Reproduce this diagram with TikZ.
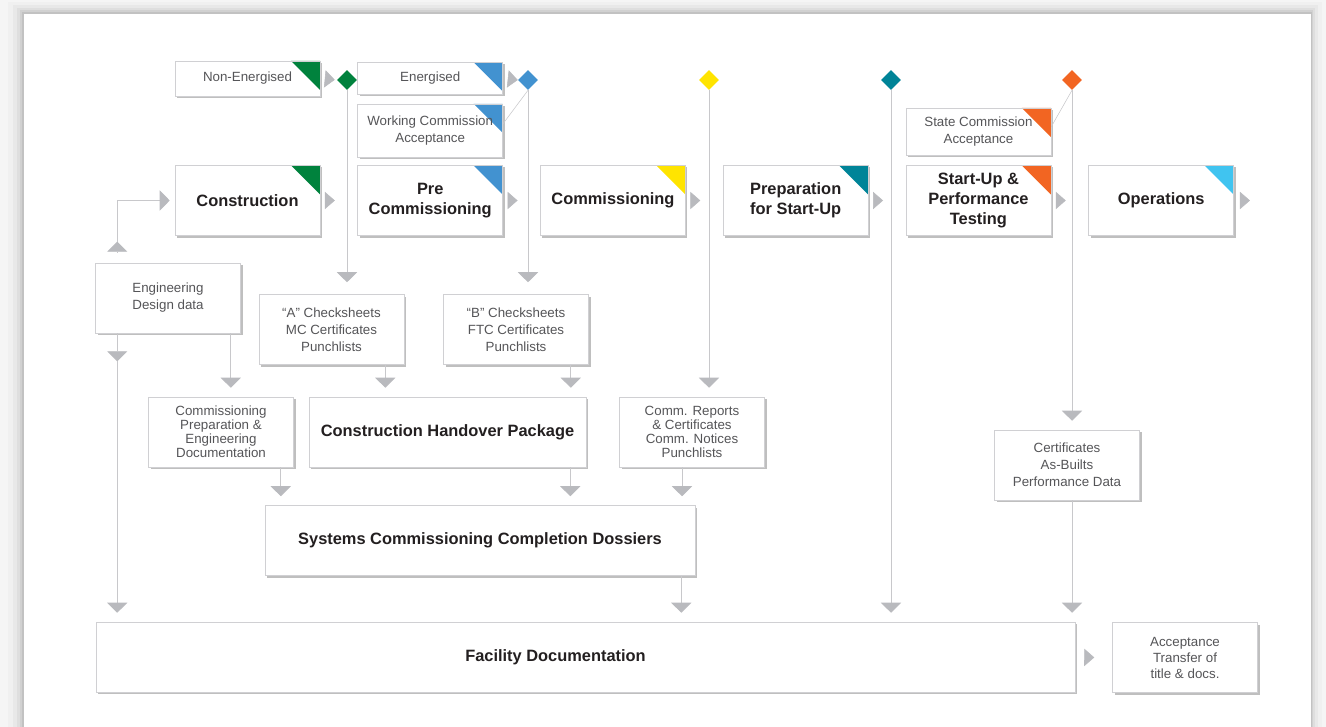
\documentclass[tikz,border=0pt]{standalone}
\usepackage{fontspec}
\setmainfont{Liberation Sans}
\usetikzlibrary{arrows.meta,positioning,calc,shapes.geometric,shadows}

\definecolor{gGreen}{RGB}{0,130,61}
\definecolor{gBlue}{RGB}{66,146,208}
\definecolor{gYellow}{RGB}{255,228,0}
\definecolor{gTeal}{RGB}{0,132,152}
\definecolor{gOrange}{RGB}{242,101,34}
\definecolor{gSky}{RGB}{64,196,240}
\definecolor{tipgray}{RGB}{185,186,190}
\definecolor{linegray}{RGB}{200,200,203}
\definecolor{boxline}{RGB}{208,208,211}
\definecolor{ink}{RGB}{35,31,32}
\definecolor{notegray}{RGB}{85,85,88}

\begin{document}
\begin{tikzpicture}[x=0.75pt,y=-0.75pt,node distance=27.9pt,
    stage/.style={draw=boxline,fill=white,line width=0.4pt,
      drop shadow={shadow xshift=1.5pt,shadow yshift=-1.5pt,fill=black!55,opacity=.45},
      minimum width=108.75pt,minimum height=52.5pt,inner sep=2pt,align=center,
      text=ink,font=\bfseries\fontsize{12.3}{15}\selectfont},
    note/.style={stage,text=notegray,font=\fontsize{10}{12.75}\selectfont},
    flag/.style={path picture={\fill[#1] (path picture bounding box.north east)
      -- ++(-21.75pt,0) -- ++(21.75pt,-21.75pt) -- cycle;}},
    gate/.style={diamond,fill=#1,minimum size=15pt,inner sep=0pt},
    link/.style={draw=linegray,line width=0.6pt,
      -{Triangle[width=15pt,length=7.5pt,color=tipgray]},shorten >=6.75pt},
    hop/.style={draw=white,line width=0.4pt,shorten <=2.5pt,
      -{Triangle[width=13pt,length=7.5pt,color=tipgray]}}]

  % page
  \useasboundingbox (0,0) rectangle (1326,727);
  \fill[black!4] (0,0) rectangle (1326,727);
  \fill[black!6] (8,2) rectangle (1322,727);
  \fill[black!9] (13,5) rectangle (1318,727);
  \fill[black!13] (17,8) rectangle (1315,727);
  \fill[black!18] (20,10) rectangle (1313,727);
  \fill[black!24] (22,12) rectangle (1312,727);
  \fill[white] (24,14) rectangle (1311,727);

  % stages
  \node[stage,flag=gGreen] (constr) at (247.5,200.5) {Construction};
  \node[stage,flag=gBlue,right=of constr] (precomm) {Pre\\Commissioning};
  \node[stage,flag=gYellow,right=of precomm] (comm) {Commissioning};
  \node[stage,flag=gTeal,right=of comm] (prep) {Preparation\\for Start-Up};
  \node[stage,flag=gOrange,right=of prep] (startup) {Start-Up \&\\Performance\\Testing};
  \node[stage,flag=gSky,right=of startup] (ops) {Operations};

  \node[note,flag=gBlue,minimum height=39.75pt,above=6pt of precomm] (wca)
    {Working Commission\\Acceptance};
  \node[note,flag=gBlue,minimum height=24pt,above=6.75pt of wca] (energ) {Energised};
  \node[note,flag=gGreen,minimum height=26.25pt] (nonen) at (constr |- energ) {Non-Energised};
  \node[note,flag=gOrange,minimum height=35.25pt,above=7.5pt of startup] (sca)
    {State Commission\\Acceptance};

  \node[gate=gGreen] (g1) at (347,80) {};
  \node[gate=gBlue] (g2) at (528,80) {};
  \node[gate=gYellow] (g3) at (709,80) {};
  \node[gate=gTeal] (g4) at (891,80) {};
  \node[gate=gOrange] (g5) at (1072,80) {};

  % documents
  \node[note] (eng) at (168,298) {Engineering\\Design data};
  \node[note] (achk) at (331.5,329.5) {``A'' Checksheets\\MC Certificates\\Punchlists};
  \node[note] (bchk) at (516,329.5) {``B'' Checksheets\\FTC Certificates\\Punchlists};
  \node[note,font=\fontsize{10}{10.5}\selectfont] (cprep) at (221,432)
    {Commissioning\\Preparation \&\\Engineering\\Documentation};
  \node[stage,minimum width=207.75pt] (chp) at (447.5,432) {Construction Handover Package};
  \node[note,font=\fontsize{10}{10.5}\selectfont] (crep) at (692,432)
    {Comm. Reports\\\& Certificates\\Comm. Notices\\Punchlists};
  \node[stage,minimum width=322.5pt] (sccd) at (480,540.5)
    {Systems Commissioning Completion Dossiers};
  \node[note] (cert) at (1067,465) {Certificates\\As-Builts\\Performance Data};
  \node[stage,minimum width=734.25pt,
    label={[text=ink,font=\bfseries\fontsize{12.3}{15}\selectfont,xshift=-22.5pt]center:Facility Documentation}]
    (facility) at (585.5,657) {};
  \node[note,font=\fontsize{10}{12}\selectfont] (accept) at (1185,657.5)
    {Acceptance\\Transfer of\\title \& docs.};

  % stage to stage
  \draw[hop,shorten >=1.5pt] (nonen.east) -- (g1.west);
  \draw[hop] (energ.east) -- (g2.west);
  \draw[hop,shorten >=17pt] (constr) -- (precomm);
  \draw[hop,shorten >=17pt] (precomm) -- (comm);
  \draw[hop,shorten >=17pt] (comm) -- (prep);
  \draw[hop,shorten >=17pt] (prep) -- (startup);
  \draw[hop,shorten >=17pt] (startup) -- (ops);
  \draw[hop] (ops.east) -- ++(16,0) coordinate (o1);
  \draw[hop,shorten >=13.5pt] (facility) -- (accept);

  % milestones
  \draw[linegray,line width=0.4pt] (g2.south) -- ([yshift=5pt]wca.east);
  \draw[linegray,line width=0.4pt] (g5.south) -- ([yshift=3.5pt]sca.east);
  \draw[link,shorten >=9pt] (g1.south) -- (g1 |- achk.north);
  \draw[link,shorten >=9pt] (g2.south) -- (g2 |- bchk.north);
  \draw[link] (g3.south) -- (g3 |- crep.north);
  \draw[link] (g4.south) -- (g4 |- facility.north);
  \draw[link] (g5.south) -- (g5 |- cert.north);
  \draw[link] (g5 |- cert.south) -- (g5 |- facility.north);

  % engineering data
  \draw[link,shorten <=8.25pt,shorten >=0pt] ($(eng.north west)+(22,0)$) -- ++(0,-21) coordinate (e1);
  \draw[link,shorten >=3.75pt] (e1) |- (constr.west);
  \draw[link,shorten >=0pt] ($(eng.south west)+(22,0)$) -- ++(0,28) coordinate (e2);
  \draw[link] (e2) -- (e2 |- facility.north);
  \draw[link] ($(eng.south east)+(-10,0)$) coordinate (e3) -- (e3 |- cprep.north);

  % handover
  \draw[link] ($(achk.south east)+(-19,0)$) coordinate (a1) -- (a1 |- chp.north);
  \draw[link] ($(bchk.south east)+(-18,0)$) coordinate (b1) -- (b1 |- chp.north);
  \draw[link] ($(cprep.south east)+(-13,0)$) coordinate (c1) -- (c1 |- sccd.north);
  \draw[link] ($(chp.south east)+(-16,0)$) coordinate (c2) -- (c2 |- sccd.north);
  \draw[link] ($(crep.south)+(-10,0)$) coordinate (c3) -- (c3 |- sccd.north);
  \draw[link] ($(sccd.south east)+(-14,0)$) coordinate (s1) -- (s1 |- facility.north);
\end{tikzpicture}
\end{document}
